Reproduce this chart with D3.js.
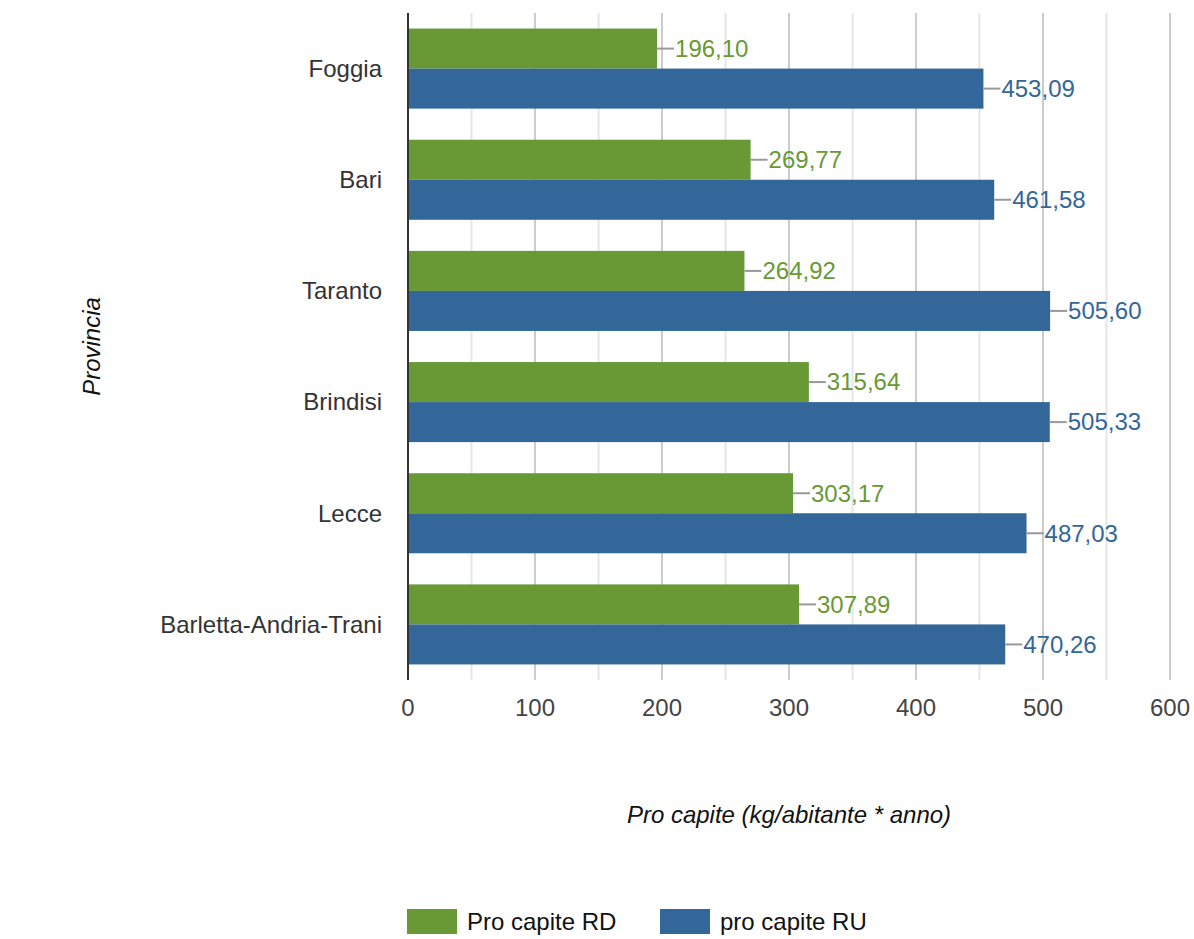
<!DOCTYPE html>
<html>
<head>
<meta charset="utf-8">
<script src="https://cdn.jsdelivr.net/npm/d3@7"></script>
<style>
  body { margin: 0; background: #fff; }
  svg { font-family: "Liberation Sans", Arial, sans-serif; }
</style>
</head>
<body>
<div id="chart"></div>
<script>
// Data
const provinces = ['Foggia', 'Bari', 'Taranto', 'Brindisi', 'Lecce', 'Barletta-Andria-Trani'];
const seriesNames = ['Pro capite RD', 'pro capite RU'];
const rdValues = [196.10, 269.77, 264.92, 315.64, 303.17, 307.89];
const ruValues = [453.09, 461.58, 505.60, 505.33, 487.03, 470.26];
const xTicks = [0, 100, 200, 300, 400, 500, 600];
const seriesColors = ['#689934', '#336699'];

const width = 1194;
const height = 939;
const margin = { top: 13, right: 24, bottom: 259, left: 408 };
const plotW = width - margin.left - margin.right;
const plotH = height - margin.top - margin.bottom;
const fs = 24;

const svg = d3.select('#chart')
  .append('svg')
  .attr('width', width)
  .attr('height', height);

const g = svg.append('g')
  .attr('transform', `translate(${margin.left},${margin.top})`);

const x = d3.scaleLinear().domain([0, 600]).range([0, 762]);
const y = d3.scaleBand().domain(provinces).range([0, plotH]).paddingInner(0.28).paddingOuter(0.14);
const ySub = d3.scaleBand().domain(seriesNames).range([0, y.bandwidth()]);

// Gridlines: minor at 50, major at 100
const minor = d3.range(50, 600, 100);
g.append('g').selectAll('line')
  .data(minor)
  .enter().append('line')
  .attr('x1', d => x(d)).attr('x2', d => x(d))
  .attr('y1', 0).attr('y2', plotH)
  .attr('stroke', '#e6e6e6').attr('stroke-width', 2);

g.append('g').selectAll('line')
  .data(xTicks.slice(1))
  .enter().append('line')
  .attr('x1', d => x(d)).attr('x2', d => x(d))
  .attr('y1', 0).attr('y2', plotH)
  .attr('stroke', '#cccccc').attr('stroke-width', 2);

// Bars
const rows = provinces.map((p, i) => ({ p, vals: [rdValues[i], ruValues[i]] }));

const groups = g.append('g').selectAll('g')
  .data(rows)
  .enter().append('g')
  .attr('transform', d => `translate(0,${y(d.p)})`);

groups.selectAll('rect')
  .data(d => d.vals.map((v, k) => ({ v, k })))
  .enter().append('rect')
  .attr('x', 0)
  .attr('y', d => ySub(seriesNames[d.k]))
  .attr('width', d => x(d.v))
  .attr('height', ySub.bandwidth())
  .attr('fill', d => seriesColors[d.k]);

// Value labels with connector line
const fmt = v => v.toFixed(2).replace('.', ',');
const labels = groups.selectAll('g.lbl')
  .data(d => d.vals.map((v, k) => ({ v, k })))
  .enter().append('g')
  .attr('class', 'lbl')
  .attr('transform', d => `translate(${x(d.v)},${ySub(seriesNames[d.k]) + ySub.bandwidth() / 2})`);

labels.append('line')
  .attr('x1', 0).attr('x2', 17)
  .attr('y1', 0).attr('y2', 0)
  .attr('stroke', '#999').attr('stroke-width', 2);

labels.append('text')
  .attr('x', 18)
  .attr('dy', '0.35em')
  .attr('font-size', fs)
  .attr('fill', d => seriesColors[d.k])
  .text(d => fmt(d.v));

// Left axis line
g.append('line')
  .attr('x1', 0).attr('x2', 0)
  .attr('y1', 0).attr('y2', plotH)
  .attr('stroke', '#333').attr('stroke-width', 2);

// Category labels
g.append('g').selectAll('text')
  .data(provinces)
  .enter().append('text')
  .attr('x', -26)
  .attr('y', d => y(d) + y.bandwidth() / 2)
  .attr('dy', '0.35em')
  .attr('text-anchor', 'end')
  .attr('font-size', fs)
  .attr('fill', '#333')
  .text(d => d);

// X tick labels
g.append('g').selectAll('text')
  .data(xTicks)
  .enter().append('text')
  .attr('x', d => x(d))
  .attr('y', plotH + 28)
  .attr('dy', '0.35em')
  .attr('text-anchor', 'middle')
  .attr('font-size', fs)
  .attr('fill', '#444')
  .text(d => d);

// Axis titles
svg.append('text')
  .attr('x', margin.left + x(300))
  .attr('y', 815)
  .attr('dy', '0.35em')
  .attr('text-anchor', 'middle')
  .attr('font-size', fs)
  .attr('font-style', 'italic')
  .attr('fill', '#111')
  .text('Pro capite (kg/abitante * anno)');

svg.append('text')
  .attr('transform', `translate(92,${margin.top + plotH / 2}) rotate(-90)`)
  .attr('dy', '0.35em')
  .attr('text-anchor', 'middle')
  .attr('font-size', fs)
  .attr('font-style', 'italic')
  .attr('fill', '#111')
  .text('Provincia');

// Legend
const legend = svg.append('g')
  .selectAll('g')
  .data(seriesNames)
  .enter().append('g')
  .attr('transform', (d, i) => `translate(${407 + i * 253},909)`);

legend.append('rect')
  .attr('width', 50).attr('height', 25)
  .attr('fill', (d, i) => seriesColors[i]);

legend.append('text')
  .attr('x', 60).attr('y', 12.5)
  .attr('dy', '0.35em')
  .attr('font-size', fs)
  .attr('fill', '#111')
  .text(d => d);
</script>
</body>
</html>
